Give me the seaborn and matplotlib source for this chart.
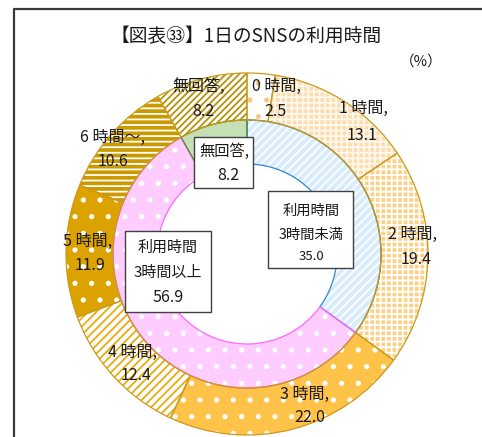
import matplotlib
matplotlib.use("Agg")
import matplotlib.pyplot as plt
import seaborn as sns
import pandas as pd
from matplotlib.patches import Rectangle

sns.set_theme(style="white")
plt.rcParams['font.family'] = ['Noto Sans CJK JP', 'DejaVu Sans']
plt.rcParams['hatch.linewidth'] = 1.3

# ---- data ----
outer_labels = ["0 時間", "1 時間", "2 時間", "3 時間", "4 時間", "5 時間", "6 時間～", "無回答"]
outer_values = [2.5, 13.1, 19.4, 22.0, 12.4, 11.9, 10.6, 8.2]
inner_labels = ["利用時間\n3時間未満", "利用時間\n3時間以上", "無回答,"]
inner_values = [35.0, 56.9, 8.2]
title = "【図表㉝】1日のSNSの利用時間"
unit = "（%）"

outer = pd.DataFrame({"label": outer_labels, "value": outer_values})
inner = pd.DataFrame({"label": inner_labels, "value": inner_values})

# styles
outer_face = ["#FFFFFF", "#FBDDB0", "#FDD083", "#FFC34A", "#FFFFFF", "#DCA300", "#CC9A00", "#FFFFFF"]
outer_hatch = [".", "+++", "+++", ".", "////", ".", "---", "/////"]
outer_hcol = ["#F6C98A", "#FFF8EE", "#FFFFFF", "#FFFFFF", "#E9AC10", "#FFFFFF", "#FFFFFF", "#B8920A"]
inner_face = ["#D8ECFB", "#FFCCFF", "#C5E0B4"]
inner_hatch = ["////", ".", None]
inner_hcol = ["#FFFFFF", "#FFFFFF", "#C5E0B4"]
inner_edge = ["#2E86D0", "#FF66FF", "#548235"]

W, H = 482, 437
fig = plt.figure(figsize=(W / 100, H / 100), dpi=100)
ax = fig.add_axes([0, 0, 1, 1])

cx, cy = 247, H - 254
R_out, R_mid, R_in = 181, 134, 90

# outer ring fill/hatch
w_out, _ = ax.pie(outer["value"], radius=R_out, center=(cx, cy), startangle=90,
                  counterclock=False, wedgeprops=dict(width=R_out - R_mid), frame=True)
for w, fc, hc, ht in zip(w_out, outer_face, outer_hcol, outer_hatch):
    w.set_facecolor(fc)
    w.set_edgecolor(hc)
    w.set_hatch(ht)
    w.set_linewidth(0)
ax.pie(outer["value"], radius=R_out, center=(cx, cy), startangle=90,
       counterclock=False, frame=True,
       wedgeprops=dict(width=R_out - R_mid, fill=False, edgecolor="#C99A1A", linewidth=0.9))

# inner ring
w_in, _ = ax.pie(inner["value"], radius=R_mid, center=(cx, cy), startangle=90,
                 counterclock=False, wedgeprops=dict(width=R_mid - R_in), frame=True)
for w, fc, hc, ht in zip(w_in, inner_face, inner_hcol, inner_hatch):
    w.set_facecolor(fc)
    w.set_edgecolor(hc)
    if ht:
        w.set_hatch(ht)
    w.set_linewidth(0)
w_in2, _ = ax.pie(inner["value"], radius=R_mid, center=(cx, cy), startangle=90,
                  counterclock=False, frame=True,
                  wedgeprops=dict(width=R_mid - R_in, fill=False, linewidth=0.9))
for w, ec in zip(w_in2, inner_edge):
    w.set_edgecolor(ec)
ax.pie([1], radius=R_mid, center=(cx, cy), frame=True,
       wedgeprops=dict(fill=False, edgecolor="#C99A1A", linewidth=0.9))

ax.set_xlim(0, W)
ax.set_ylim(0, H)
ax.set_aspect("auto")
ax.axis("off")

def Y(y):
    return H - y

TXT = "#1a1a1a"
# outer labels: (x1, y1) first line, (x2, y2) second line, in pixels from top-left
outer_pos = [((276, 86), (275, 112)), ((363, 108), (362, 135)), ((413, 234), (416, 259)),
             ((305, 394), (310, 418)), ((133, 352), (136, 375)), ((88, 241), (90, 266)),
             ((113, 137), (113, 162)), ((199, 86), (203, 112))]
for ((x1, y1), (x2, y2)), lab, v in zip(outer_pos, outer_labels, outer_values):
    ax.text(x1, Y(y1), f"{lab},", ha="center", va="center", fontsize=11.5, color=TXT)
    ax.text(x2, Y(y2), f"{v:.1f}", ha="center", va="center", fontsize=11.5, color=TXT)

# inner label boxes
ax.add_patch(Rectangle((194, Y(188)), 59, 51, facecolor="white", edgecolor="#404040", lw=1.0))
ax.text(224, Y(151), inner_labels[2], ha="center", va="center", fontsize=11, color=TXT)
ax.text(228, Y(176), f"{inner_values[2]:.1f}", ha="center", va="center", fontsize=11.5, color=TXT)

ax.add_patch(Rectangle((268, Y(268)), 85, 77, facecolor="white", edgecolor="#404040", lw=1.0))
l1, l2 = inner_labels[0].split("\n")
ax.text(311, Y(211), l1, ha="center", va="center", fontsize=10.3, color=TXT)
ax.text(311, Y(235), l2, ha="center", va="center", fontsize=10.3, color=TXT)
ax.text(311, Y(256), f"{inner_values[0]:.1f}", ha="center", va="center", fontsize=9.5, color=TXT)

ax.add_patch(Rectangle((125, Y(312)), 86, 81, facecolor="white", edgecolor="#404040", lw=1.0))
l1, l2 = inner_labels[1].split("\n")
ax.text(168, Y(248), l1, ha="center", va="center", fontsize=10.8, color=TXT)
ax.text(168, Y(273), l2, ha="center", va="center", fontsize=10.8, color=TXT)
ax.text(168, Y(297), f"{inner_values[1]:.1f}", ha="center", va="center", fontsize=11.5, color=TXT)

# title and unit
ax.text(246, Y(37), title, ha="center", va="center", fontsize=13.5, color=TXT)
ax.text(421, Y(62), unit, ha="center", va="center", fontsize=10.5, color=TXT)

# frame (partial, as in reference)
ax.plot([13.5, 13.5, W], [0, Y(8.5), Y(8.5)], color="#3a3a3a", lw=1.6, solid_capstyle="butt")

fig.savefig("out.png", dpi=100)
